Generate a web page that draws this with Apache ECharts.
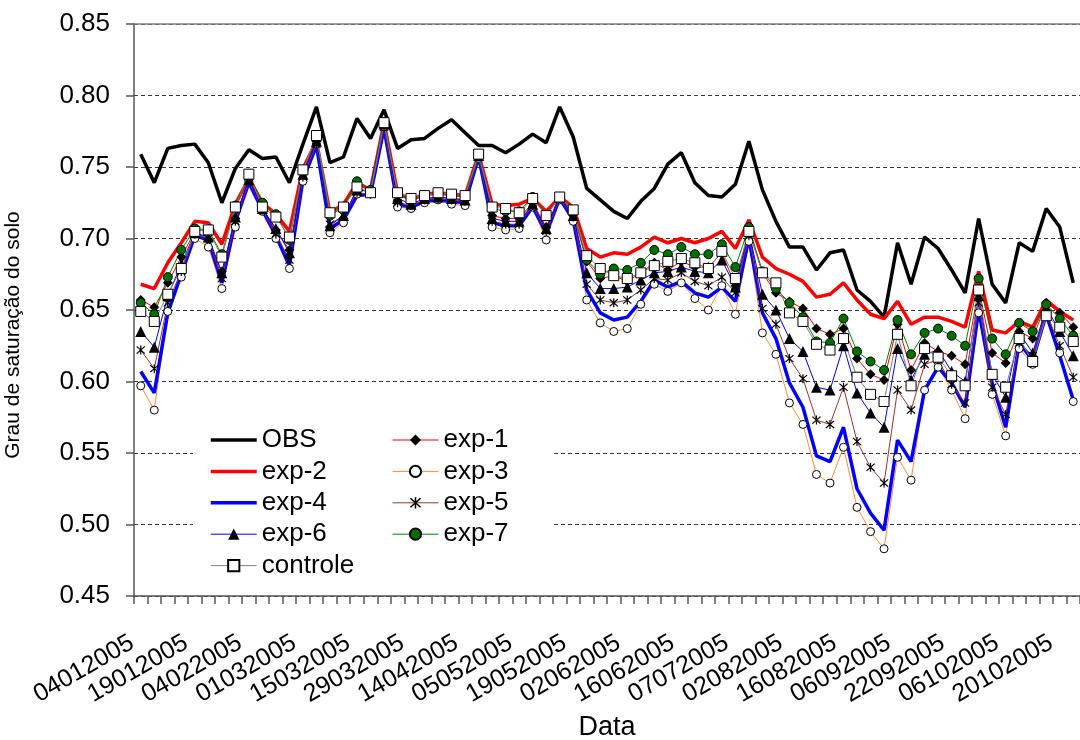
<!DOCTYPE html>
<html><head><meta charset="utf-8">
<script src="https://cdn.jsdelivr.net/npm/echarts@6/dist/echarts.min.js"></script>
<style>html,body{margin:0;padding:0;background:#fff}#c{width:1080px;height:740px}</style>
</head><body><div id="c"></div>
<script>
// Visible tick labels (every 4th measurement date)
const tickLabels = ['04012005','19012005','04022005','01032005','15032005','29032005','14042005','05052005','19052005','02062005','16062005','07072005','02082005','16082005','06092005','22092005','06102005','20102005'];

const obs = [0.759,0.739,0.763,0.765,0.766,0.753,0.725,0.749,0.762,0.756,0.757,0.739,0.766,0.792,0.753,0.757,0.784,0.770,0.790,0.763,0.769,0.770,0.777,0.783,0.774,0.765,0.765,0.760,0.766,0.773,0.767,0.792,0.771,0.735,0.727,0.719,0.714,0.726,0.735,0.752,0.760,0.739,0.730,0.729,0.738,0.768,0.734,0.712,0.694,0.694,0.678,0.690,0.692,0.664,0.656,0.645,0.697,0.668,0.701,0.693,0.678,0.662,0.714,0.668,0.655,0.697,0.691,0.721,0.708,0.669];
const exp1 = [0.657,0.652,0.669,0.687,0.705,0.699,0.677,0.714,0.741,0.721,0.706,0.692,0.746,0.768,0.708,0.714,0.735,0.732,0.780,0.726,0.722,0.727,0.729,0.728,0.727,0.758,0.716,0.714,0.714,0.725,0.708,0.729,0.717,0.684,0.672,0.674,0.670,0.676,0.683,0.678,0.684,0.680,0.680,0.690,0.667,0.707,0.676,0.662,0.656,0.651,0.637,0.633,0.637,0.616,0.605,0.601,0.640,0.608,0.627,0.621,0.618,0.612,0.665,0.620,0.613,0.635,0.630,0.655,0.648,0.638];
const exp2 = [0.668,0.665,0.683,0.697,0.712,0.711,0.696,0.724,0.742,0.725,0.717,0.705,0.749,0.768,0.718,0.724,0.739,0.734,0.781,0.732,0.727,0.731,0.732,0.731,0.730,0.759,0.724,0.723,0.724,0.728,0.719,0.729,0.722,0.693,0.687,0.690,0.689,0.694,0.701,0.697,0.700,0.697,0.700,0.705,0.693,0.713,0.687,0.679,0.675,0.670,0.659,0.661,0.669,0.657,0.647,0.644,0.656,0.640,0.645,0.645,0.642,0.638,0.677,0.636,0.634,0.642,0.638,0.657,0.649,0.643];
const exp3 = [0.597,0.580,0.649,0.673,0.700,0.694,0.665,0.708,0.740,0.719,0.700,0.679,0.740,0.766,0.704,0.711,0.731,0.732,0.778,0.722,0.721,0.725,0.727,0.724,0.723,0.756,0.708,0.706,0.707,0.722,0.699,0.727,0.712,0.657,0.641,0.635,0.637,0.654,0.668,0.663,0.669,0.658,0.650,0.667,0.647,0.698,0.634,0.619,0.585,0.570,0.535,0.529,0.554,0.512,0.495,0.483,0.547,0.531,0.594,0.610,0.594,0.574,0.648,0.591,0.562,0.623,0.612,0.647,0.620,0.586];
const exp4 = [0.607,0.592,0.648,0.675,0.702,0.699,0.669,0.712,0.739,0.720,0.702,0.681,0.741,0.765,0.707,0.713,0.730,0.731,0.777,0.724,0.722,0.726,0.727,0.726,0.725,0.757,0.711,0.709,0.709,0.722,0.704,0.728,0.713,0.664,0.648,0.643,0.645,0.656,0.671,0.666,0.670,0.662,0.659,0.666,0.656,0.700,0.648,0.630,0.599,0.582,0.548,0.544,0.568,0.525,0.508,0.496,0.559,0.544,0.594,0.610,0.599,0.582,0.650,0.599,0.568,0.627,0.615,0.647,0.618,0.587];
const exp5 = [0.622,0.609,0.655,0.677,0.703,0.700,0.672,0.712,0.740,0.720,0.703,0.685,0.743,0.766,0.710,0.716,0.732,0.731,0.778,0.725,0.723,0.727,0.728,0.727,0.726,0.757,0.712,0.710,0.710,0.723,0.705,0.728,0.715,0.668,0.657,0.655,0.657,0.664,0.672,0.671,0.676,0.670,0.667,0.673,0.662,0.702,0.651,0.640,0.616,0.602,0.573,0.570,0.596,0.558,0.540,0.529,0.594,0.580,0.612,0.615,0.598,0.585,0.655,0.596,0.577,0.627,0.618,0.648,0.625,0.603];
const exp6 = [0.635,0.624,0.660,0.682,0.704,0.701,0.676,0.715,0.741,0.721,0.707,0.690,0.745,0.768,0.709,0.716,0.734,0.733,0.780,0.728,0.724,0.728,0.729,0.728,0.727,0.758,0.714,0.712,0.712,0.724,0.707,0.729,0.716,0.676,0.665,0.665,0.666,0.671,0.676,0.677,0.680,0.677,0.676,0.685,0.666,0.705,0.661,0.650,0.630,0.621,0.596,0.594,0.625,0.592,0.578,0.568,0.623,0.601,0.619,0.622,0.607,0.600,0.660,0.605,0.589,0.634,0.620,0.652,0.635,0.618];
const exp7 = [0.655,0.647,0.673,0.692,0.707,0.706,0.689,0.723,0.745,0.725,0.717,0.699,0.748,0.771,0.716,0.722,0.740,0.734,0.781,0.731,0.727,0.730,0.731,0.730,0.729,0.758,0.721,0.719,0.719,0.729,0.716,0.729,0.719,0.685,0.675,0.679,0.678,0.683,0.692,0.689,0.694,0.689,0.689,0.696,0.680,0.708,0.677,0.665,0.655,0.645,0.628,0.627,0.644,0.621,0.614,0.608,0.643,0.619,0.634,0.637,0.632,0.625,0.672,0.630,0.619,0.641,0.635,0.654,0.644,0.632];
const controle = [0.649,0.642,0.661,0.679,0.705,0.706,0.687,0.722,0.745,0.722,0.715,0.701,0.748,0.772,0.718,0.722,0.736,0.732,0.781,0.732,0.728,0.730,0.732,0.731,0.730,0.759,0.722,0.721,0.718,0.728,0.716,0.729,0.720,0.688,0.679,0.674,0.672,0.676,0.681,0.684,0.686,0.683,0.679,0.691,0.672,0.705,0.676,0.669,0.648,0.642,0.626,0.622,0.630,0.603,0.591,0.586,0.633,0.597,0.623,0.617,0.604,0.597,0.664,0.605,0.596,0.630,0.614,0.646,0.638,0.628];

const categories = obs.map((_, i) => (i % 4 === 0 ? tickLabels[i / 4] : ''));

const FONT = '"Liberation Sans", Arial, sans-serif';
const ASTERISK = 'path://M4.4 0L5.6 0L5.6 10L4.4 10Z M1.42 0.58L9.42 8.58L8.58 9.42L0.58 1.42Z M8.58 0.58L9.42 1.42L1.42 9.42L0.58 8.58Z';

function thick(name, data, color) {
  return { name, type: 'line', data, symbol: 'none', showSymbol: false,
    lineStyle: { color, width: 3.5 }, itemStyle: { color }, z: 2 };
}
function marked(name, data, lineColor, symbol, size, fill, border) {
  return { name, type: 'line', data, symbol, symbolSize: size, showSymbol: true, showAllSymbol: true,
    lineStyle: { color: lineColor, width: 1 },
    itemStyle: { color: fill, borderColor: border || fill, borderWidth: border ? 1 : 0 }, z: 2 };
}
const LT = { fontSize: 26, lineHeight: 26, color: '#000', fontFamily: FONT };

const chart = echarts.init(document.getElementById('c'), null, { renderer: 'canvas' });
chart.setOption({
  animation: false,
  backgroundColor: '#fff',
  textStyle: { fontFamily: FONT },
  grid: { left: 134, right: 0, top: 24, bottom: 144, containLabel: false, outerBoundsMode: 'none' },
  xAxis: [{
    type: 'category', data: categories, boundaryGap: true,
    axisLine: { show: true, lineStyle: { color: '#555', width: 1.5 } },
    axisTick: { show: true, interval: 0, length: 8, lineStyle: { color: '#555', width: 1.5 } },
    axisLabel: { interval: 3, rotate: 30, fontSize: 25, margin: 40, padding: [0, 10, 0, 0], color: '#000', fontFamily: FONT, hideOverlap: false },
    splitLine: { show: false },
    name: 'Data', nameLocation: 'middle', nameGap: 117,
    nameTextStyle: { fontSize: 27, color: '#000', fontFamily: FONT }
  }, {
    type: 'category', data: categories, position: 'top', boundaryGap: true,
    axisLine: { show: true, lineStyle: { color: '#808080', width: 1.5 } },
    axisTick: { show: false }, axisLabel: { show: false }, splitLine: { show: false }
  }],
  yAxis: {
    type: 'value', min: 0.45, max: 0.85, interval: 0.05,
    axisLine: { show: true, lineStyle: { color: '#555', width: 1.5 } },
    axisTick: { show: true, length: 8, lineStyle: { color: '#555', width: 1.5 } },
    axisLabel: { fontSize: 26, margin: 24, color: '#000', fontFamily: FONT, formatter: v => v.toFixed(2) },
    splitLine: { show: true, lineStyle: { type: [4, 3], color: '#333', width: 1 } },
    name: 'Grau de saturação do solo', nameLocation: 'middle', nameGap: 110,
    nameTextStyle: { fontSize: 21, color: '#000', fontFamily: FONT, padding: [0, 50, 0, 0] }
  },
  legend: [{
    orient: 'vertical', left: 193, top: 402, padding: [25, 200, 12, 16],
    backgroundColor: '#fff', itemWidth: 46, itemHeight: 14, itemGap: 5.4,
    selectedMode: false, z: 5, textStyle: LT,
    data: [
      { name: 'OBS', lineStyle: { width: 3.5, color: '#000000' }, itemStyle: { opacity: 0 } },
      { name: 'exp-2', lineStyle: { width: 3.5, color: '#FF0000' }, itemStyle: { opacity: 0 } },
      { name: 'exp-4', lineStyle: { width: 3.5, color: '#0000FF' }, itemStyle: { opacity: 0 } },
      { name: 'exp-6', lineStyle: { width: 1, color: '#0000FF' } },
      { name: 'controle', lineStyle: { width: 1, color: '#808080' } }
    ]
  }, {
    orient: 'vertical', left: 392, top: 427, padding: 0,
    itemWidth: 46, itemHeight: 14, itemGap: 5.4, selectedMode: false, z: 6, textStyle: LT,
    data: [
      { name: 'exp-1', lineStyle: { width: 1, color: '#FF0000' } },
      { name: 'exp-3', lineStyle: { width: 1, color: '#FF8C3A' } },
      { name: 'exp-5', lineStyle: { width: 1, color: '#993333' } },
      { name: 'exp-7', lineStyle: { width: 1, color: '#008000' } }
    ]
  }],
  series: [
    thick('OBS', obs, '#000000'),
    marked('exp-1', exp1, '#FF0000', 'diamond', 10, '#000000', null),
    thick('exp-2', exp2, '#FF0000'),
    marked('exp-3', exp3, '#FF8C3A', 'circle', 8, '#FFFFFF', '#000000'),
    thick('exp-4', exp4, '#0000FF'),
    marked('exp-5', exp5, '#993333', ASTERISK, 9, '#000000', null),
    marked('exp-6', exp6, '#0000FF', 'triangle', 11, '#000000', null),
    marked('exp-7', exp7, '#008000', 'circle', 9, '#007000', '#000000'),
    marked('controle', controle, '#808080', 'rect', 10, '#FFFFFF', '#000000')
  ]
});
</script></body></html>
